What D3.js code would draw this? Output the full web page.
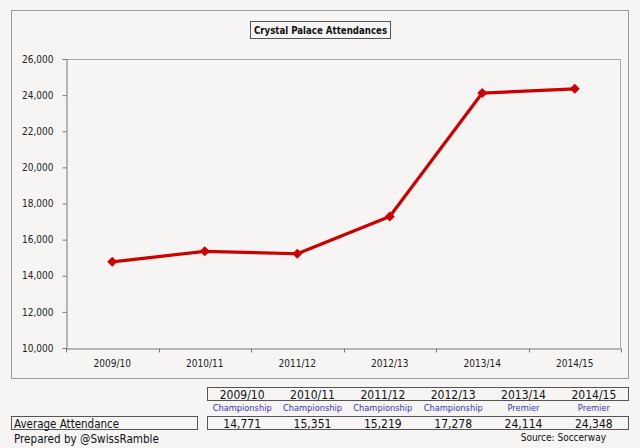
<!DOCTYPE html>
<html><head><meta charset="utf-8">
<script src="https://cdn.jsdelivr.net/npm/d3@7"></script>
<style>
body{margin:0;background:#f6f5f4;}
svg{display:block;}
text{font-family:"DejaVu Sans Condensed","DejaVu Sans",sans-serif;}
</style></head>
<body>
<script>
const seasons = ["2009/10","2010/11","2011/12","2012/13","2013/14","2014/15"];
const divisions = ["Championship","Championship","Championship","Championship","Premier","Premier"];
const attendance = [14771,15351,15219,17278,24114,24348];
const yTicks = [10000,12000,14000,16000,18000,20000,22000,24000,26000];
const chartTitle = "Crystal Palace Attendances";
const rowLabel = "Average Attendance";
const credit = "Prepared by @SwissRamble";
const source = "Source: Soccerway";

const W=640,H=448;
const svg=d3.select("body").append("svg").attr("width",W).attr("height",H);
svg.append("rect").attr("width",W).attr("height",H).attr("fill","#f6f5f4");

// outer chart box
svg.append("rect").attr("x",11.5).attr("y",10.5).attr("width",617).attr("height",368)
  .attr("fill","#f6f5f4").attr("stroke","#9a9a9a").attr("stroke-width",1);

// title box
svg.append("rect").attr("x",250.5).attr("y",21.5).attr("width",140).attr("height",17)
  .attr("fill","#f6f5f4").attr("stroke","#555").attr("stroke-width",1);
svg.append("text").attr("x",320.5).attr("y",34).attr("text-anchor","middle")
  .attr("font-weight","bold").attr("font-size",9.6).attr("fill","#111").text(chartTitle);

const L=66,R=621,T=59,B=348;
const x=d3.scaleBand().domain(seasons).range([L,R]);
const y=d3.scaleLinear().domain([10000,26000]).range([B,T]);

// plot border top/right
svg.append("path").attr("d",`M${L},${T+0.5}H${R-0.5}V${B}`).attr("fill","none").attr("stroke","#a8a8a8");

// y axis
const ya=svg.append("g").attr("transform",`translate(${L+0.5},0)`)
  .call(d3.axisLeft(y).tickValues(yTicks).tickSize(4).tickPadding(9).tickFormat(d3.format(",")));
ya.select(".domain").attr("stroke","#777");
ya.selectAll(".tick line").attr("stroke","#777");
ya.selectAll("text").attr("font-size",10).attr("fill","#222");

// x axis
const xa=svg.append("g").attr("transform",`translate(0,${B+0.5})`)
  .call(d3.axisBottom(x).tickSize(0).tickPadding(11));
xa.select(".domain").attr("stroke","#777");
xa.selectAll("text").attr("font-size",10).attr("fill","#222");
// ticks at category boundaries
const bounds=seasons.map((s,i)=>x(s)).concat([R]);
xa.selectAll(".btick").data(bounds).join("line").attr("class","btick")
  .attr("x1",d=>Math.round(d)+0.5).attr("x2",d=>Math.round(d)+0.5).attr("y1",0).attr("y2",4).attr("stroke","#777");

// line
const cx=(d,i)=>x(seasons[i])+x.bandwidth()/2;
svg.append("path").datum(attendance)
  .attr("d",d3.line().x(cx).y(d=>y(d)))
  .attr("fill","none").attr("stroke","#cc0000").attr("stroke-width",3.2).attr("stroke-linejoin","round");
svg.selectAll(".mk").data(attendance).join("path").attr("class","mk")
  .attr("transform",(d,i)=>`translate(${cx(d,i)},${y(d)})`)
  .attr("d","M0,-5L5,0L0,5L-5,0Z").attr("fill","#cc0000");

// table
const tx=d3.scaleBand().domain(seasons).range([207,629]);
svg.append("rect").attr("x",207.5).attr("y",387.5).attr("width",421).attr("height",13)
  .attr("fill","none").attr("stroke","#555");
svg.append("rect").attr("x",207.5).attr("y",416.5).attr("width",421).attr("height",13)
  .attr("fill","none").attr("stroke","#555");
svg.append("rect").attr("x",11.5).attr("y",416.5).attr("width",186).attr("height",13)
  .attr("fill","none").attr("stroke","#555");
svg.selectAll(".yr").data(seasons).join("text").attr("class","yr")
  .attr("x",d=>tx(d)+tx.bandwidth()/2).attr("y",398.5).attr("text-anchor","middle")
  .attr("font-size",12).attr("fill","#111").text(d=>d);
svg.selectAll(".dv").data(divisions).join("text").attr("class","dv")
  .attr("x",(d,i)=>tx(seasons[i])+tx.bandwidth()/2).attr("y",411).attr("text-anchor","middle")
  .attr("font-size",9.2).attr("fill","#3a33b8").text(d=>d);
svg.selectAll(".vl").data(attendance).join("text").attr("class","vl")
  .attr("x",(d,i)=>tx(seasons[i])+tx.bandwidth()/2).attr("y",427.5).attr("text-anchor","middle")
  .attr("font-size",12).attr("fill","#111").text(d=>d3.format(",")(d));
svg.append("text").attr("x",14).attr("y",427.5).attr("font-size",11.5).attr("fill","#111").text(rowLabel);
svg.append("text").attr("x",14).attr("y",443).attr("font-size",11.6).attr("fill","#111").text(credit);
svg.append("text").attr("x",606).attr("y",441).attr("text-anchor","end").attr("font-size",10).attr("fill","#111").text(source);
</script>
</body></html>
